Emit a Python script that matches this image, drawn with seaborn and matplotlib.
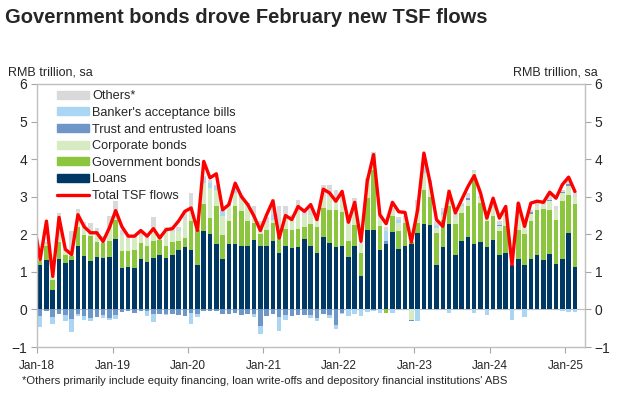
import numpy as np
import pandas as pd
import matplotlib
matplotlib.use('Agg')
import matplotlib.pyplot as plt
import seaborn as sns
from matplotlib.patches import Patch
from matplotlib.lines import Line2D

# Monthly TSF flows, RMB trillion, sa (Jan-18 .. Feb-25)
months = pd.date_range('2018-01-01', '2025-02-01', freq='MS').strftime('%b-%y').tolist()

loans = [1.18, 1.31, 0.53, 1.35, 1.23, 1.31, 1.68, 1.42, 1.28, 1.40, 1.37, 1.39,
         1.88, 1.10, 1.13, 1.10, 1.33, 1.26, 1.37, 1.46, 1.37, 1.46, 1.58, 1.66,
         1.59, 1.17, 2.10, 2.02, 1.75, 1.35, 1.75, 1.75, 1.70, 1.70, 1.84, 1.68,
         1.68, 1.81, 1.49, 1.68, 1.64, 1.66, 1.88, 1.70, 1.49, 1.93, 1.77, 1.66,
         1.70, 1.40, 1.70, 0.88, 2.12, 2.12, 1.58, 1.73, 2.05, 1.62, 1.70, 1.75,
         2.04, 2.28, 2.26, 1.17, 1.65, 2.28, 1.44, 1.81, 1.92, 1.75, 1.79, 1.65,
         1.86, 1.46, 1.49, 1.17, 1.33, 1.17, 1.35, 1.44, 1.31, 1.48, 1.22, 1.35,
         2.04, 1.13]
gov_bonds = [0.10, 0.37, 0.25, 0.45, 0.21, 0.11, 0.52, 0.57, 0.67, 0.39, 0.40, 0.42,
             0.51, 0.45, 0.42, 0.49, 0.44, 0.44, 0.44, 0.40, 0.33, 0.33, 0.23, 0.24,
             0.76, 0.95, 0.71, 0.41, 0.99, 0.64, 0.60, 1.01, 0.91, 0.65, 0.46, 0.34,
             0.44, 0.49, 0.46, 0.46, 0.48, 0.48, 0.31, 0.58, 0.71, 0.77, 0.88, 0.99,
             0.88, 0.41, 0.56, 0.62, 0.84, 1.60, 0.65, -0.10, 0.43, 0.46, 0.60, 0.05,
             0.26, 0.91, 0.74, 0.87, 0.74, 0.47, 0.83, 0.76, 0.82, 1.79, 1.04, 0.70,
             0.62, 0.62, 0.72, 0.02, 0.79, 0.83, 1.00, 1.21, 1.37, 1.17, 1.17, 1.53,
             1.01, 1.68]
corp_bonds = [0.02, 0.07, 0.10, 0.40, 0.11, 0.18, 0.25, 0.16, 0.15, 0.21, 0.09, 0.36,
              0.21, 0.44, 0.31, 0.31, 0.18, 0.18, 0.24, 0.09, 0.40, 0.26, 0.27, 0.49,
              0.35, 0.13, 0.55, 0.80, 0.45, 0.49, 0.39, 0.34, 0.31, 0.39, 0.18, 0.19,
              0.18, 0.09, 0.25, 0.38, 0.23, 0.44, 0.33, 0.22, 0.15, 0.30, 0.35, 0.27,
              0.30, 0.49, 0.53, 0.23, 0.49, 0.40, 0.17, 0.00, 0.13, 0.22, 0.10, -0.27,
              0.45, 0.44, 0.36, 0.13, 0.13, 0.35, 0.18, 0.17, 0.18, 0.13, 0.13, 0.07,
              0.22, 0.13, 0.27, 0.00, 0.62, 0.19, 0.20, 0.11, 0.10, 0.24, 0.25, 0.22,
              0.24, 0.18]
trust_loans = [-0.18, -0.04, -0.20, -0.12, -0.15, -0.25, -0.13, -0.18, -0.22, -0.20, -0.15, -0.22,
               -0.15, -0.06, -0.05, -0.09, -0.04, -0.05, -0.12, -0.13, -0.13, -0.13, -0.15, -0.18,
               -0.10, -0.13, -0.04, -0.04, -0.04, -0.12, -0.12, -0.09, -0.15, -0.13, -0.11, -0.44,
               -0.18, -0.13, -0.20, -0.15, -0.18, -0.15, -0.15, -0.15, -0.22, -0.12, -0.15, -0.42,
               -0.09, 0.00, 0.00, 0.00, 0.00, -0.02, 0.00, 0.10, 0.00, 0.00, 0.00, -0.03,
               0.00, 0.00, 0.00, 0.00, 0.00, 0.00, 0.00, 0.00, 0.05, 0.00, 0.00, 0.03,
               0.00, 0.05, 0.00, 0.00, 0.00, 0.00, 0.04, 0.00, 0.00, 0.03, 0.00, 0.03,
               0.05, 0.00]
bankers_acc = [-0.30, 0.00, -0.20, 0.00, -0.15, -0.35, -0.05, -0.10, -0.08, 0.00, -0.07, -0.05,
               -0.10, 0.00, 0.00, 0.00, 0.00, -0.13, -0.21, 0.00, -0.02, 0.00, 0.00, 0.00,
               -0.30, -0.07, 0.14, 0.13, 0.10, 0.13, 0.00, 0.09, 0.00, 0.00, -0.09, -0.22,
               0.00, 0.13, -0.38, -0.12, 0.00, 0.00, 0.00, -0.07, -0.09, 0.00, -0.09, -0.11,
               -0.04, -0.18, -0.13, -0.18, -0.06, -0.03, -0.09, 0.25, -0.09, 0.07, 0.00, 0.00,
               -0.31, 0.13, 0.05, 0.09, 0.08, -0.09, 0.00, 0.04, 0.00, -0.10, 0.00, -0.15,
               0.00, 0.00, 0.00, -0.27, 0.00, -0.20, 0.00, 0.00, 0.00, 0.00, 0.00, -0.05,
               -0.06, -0.06]
others = [0.02, 0.05, 0.00, 0.37, 0.05, 0.50, 0.22, 0.17, 0.20, 0.17, 0.09, 0.31,
          0.28, 0.13, 0.09, 0.09, 0.09, 0.07, 0.42, 0.05, 0.10, 0.15, 0.12, 0.21,
          0.40, 0.05, 0.05, 0.09, 0.01, 0.04, 0.11, 0.06, 0.13, 0.09, 0.26, 0.14,
          0.15, 0.43, 0.54, 0.22, 0.15, 0.34, 0.13, 0.20, 0.15, 0.32, 0.32, 0.27,
          0.27, 0.10, 0.17, 0.05, 0.05, 0.08, 0.15, 0.12, 0.09, 0.08, 0.08, 0.00,
          0.15, 0.14, 0.04, 0.09, 0.10, 0.10, 0.12, 0.05, 0.13, 0.03, 0.07, 0.03,
          0.09, 0.09, 0.07, 0.01, 0.08, 0.07, 0.06, 0.07, 0.10, 0.13, 0.10, 0.06,
          0.09, 0.15]

# total TSF line starts one month earlier (Dec-17), clipped by the axis
line_months = ['Dec-17'] + months
total_tsf = [2.30,
             1.33, 2.35, 0.88, 2.45, 1.60, 1.46, 2.52, 2.20, 2.04, 2.04, 1.81, 2.17,
             2.63, 2.20, 1.95, 1.95, 2.10, 1.95, 2.15, 1.90, 2.12, 2.15, 2.35, 2.61,
             2.70, 2.10, 3.94, 3.50, 3.61, 2.65, 2.79, 3.36, 3.00, 2.79, 2.48, 2.10,
             2.52, 2.89, 1.90, 2.50, 2.39, 2.74, 2.61, 2.79, 2.39, 3.20, 3.10, 2.88,
             3.14, 2.32, 2.85, 1.81, 3.42, 4.12, 2.52, 2.28, 2.85, 2.60, 2.58, 1.79,
             2.65, 4.16, 3.36, 2.39, 2.21, 3.14, 2.57, 2.92, 3.27, 3.56, 3.10, 2.43,
             2.96, 2.43, 2.74, 1.19, 2.83, 2.21, 2.83, 2.88, 2.85, 3.12, 2.96, 3.32,
             3.52, 3.14]

tick_labels = ['Jan-18', 'Jan-19', 'Jan-20', 'Jan-21', 'Jan-22', 'Jan-23', 'Jan-24', 'Jan-25']

series = [('Loans', loans, '#003865'),
          ('Government bonds', gov_bonds, '#8CC63F'),
          ('Corporate bonds', corp_bonds, '#D6EBC2'),
          ('Trust and entrusted loans', trust_loans, '#6E97C8'),
          ("Banker's acceptance bills", bankers_acc, '#AAD6F3'),
          ('Others*', others, '#D9D9D9')]

sns.set_style('white')
plt.rcParams['font.family'] = ['Liberation Sans', 'DejaVu Sans']

fig = plt.figure(figsize=(6.19, 3.96), dpi=100)
ax = fig.add_axes([0.0598, 0.1237, 0.8852, 0.6643])

x = np.arange(len(months))
pos_base = np.zeros(len(months))
neg_base = np.zeros(len(months))
for name, vals, col in series:
    v = np.array(vals)
    bottom = np.where(v >= 0, pos_base, neg_base)
    ax.bar(x, v, bottom=bottom, width=0.72, color=col, linewidth=0)
    pos_base = pos_base + np.clip(v, 0, None)
    neg_base = neg_base + np.clip(v, None, 0)

line_df = pd.DataFrame({'pos': np.arange(-1, len(months)), 'tsf': total_tsf})
sns.lineplot(data=line_df, x='pos', y='tsf', color='#FF0000', linewidth=2.4, ax=ax)

ax.axhline(0, color='#BFBFBF', linewidth=0.8, zorder=0)
ax.set_xlim(-0.5, 86.6)
ax.set_ylim(-1, 6)
ax.set_xticks(np.arange(len(tick_labels)) * 12 - 0.5)
ax.set_xticklabels(tick_labels, fontsize=8.5)
ax.set_yticks(range(-1, 7))
ax.tick_params(axis='y', labelsize=10, length=4, color='#A6A6A6', direction='out',
               left=True, right=True, labelleft=True, labelright=True, pad=3)
ax.tick_params(axis='x', length=4, color='#A6A6A6', direction='out', bottom=True, pad=5)
ax.set_xlabel('')
ax.set_ylabel('')
for s in ax.spines.values():
    s.set_color('#BFBFBF')
    s.set_linewidth(1.0)

handles = [Patch(color=col, label=name) for name, vals, col in series[::-1]]
handles.append(Line2D([], [], color='#FF0000', linewidth=2.4, label='Total TSF flows'))
ax.legend(handles=handles, loc='upper left', bbox_to_anchor=(0.022, 1.005), frameon=False,
          fontsize=9.2, handlelength=2.5, handleheight=0.6, labelspacing=0.36,
          handletextpad=0.25, borderaxespad=0.2)

fig.text(0.008, 0.955, 'Government bonds drove February new TSF flows', fontsize=14.5,
         fontweight='bold', family=['Liberation Sans Narrow', 'Liberation Sans', 'DejaVu Sans'],
         va='center', ha='left')
fig.text(0.013, 0.816, 'RMB trillion, sa', fontsize=9, va='center', ha='left')
fig.text(0.965, 0.816, 'RMB trillion, sa', fontsize=9, va='center', ha='right')
fig.text(0.036, 0.038, "*Others primarily include equity financing, loan write-offs and "
         "depository financial institutions' ABS", fontsize=8.1, va='center', ha='left')

fig.savefig('out.png', dpi=100)
